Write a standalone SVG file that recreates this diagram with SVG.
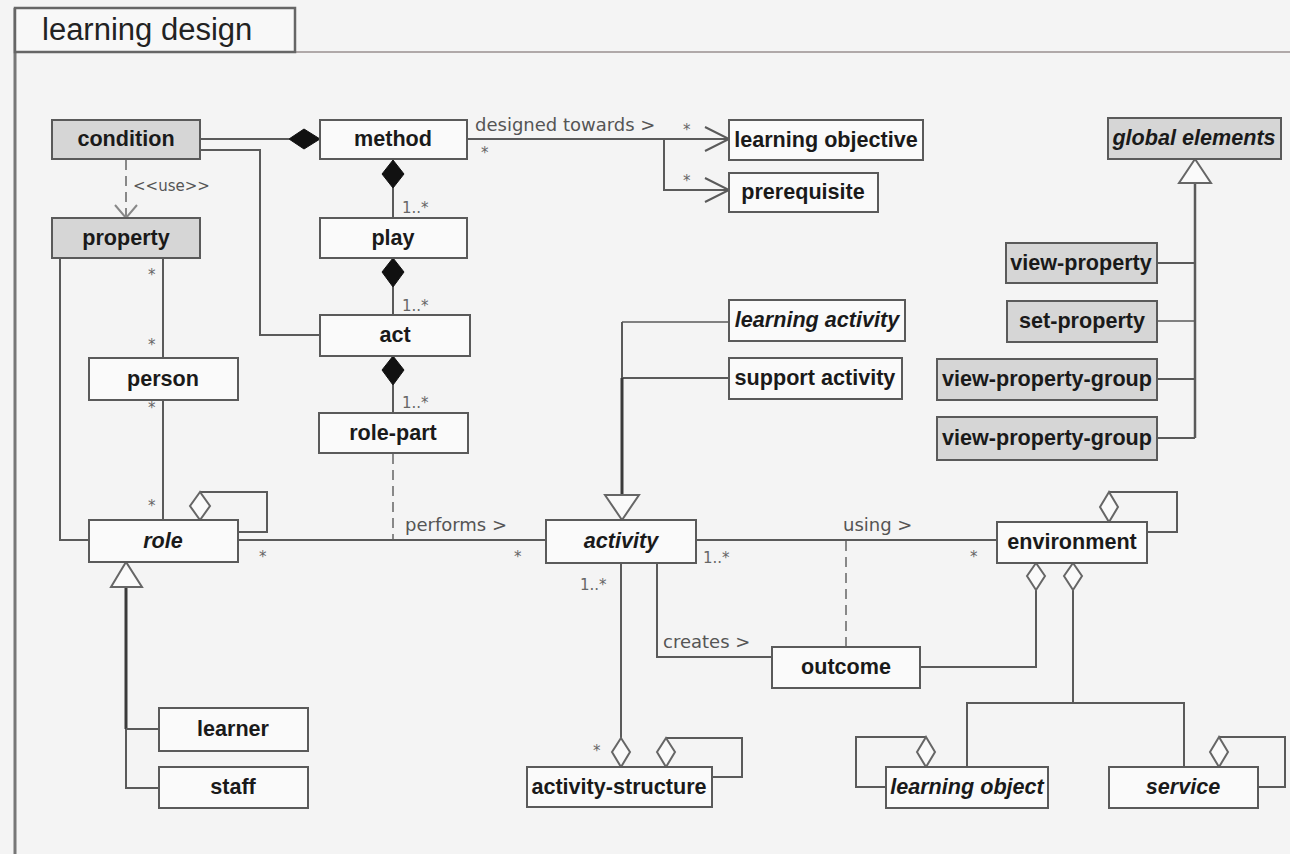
<svg xmlns="http://www.w3.org/2000/svg" width="1290" height="854" viewBox="0 0 1290 854">
<style>
.n rect{fill:#fafafa;stroke:#5a5a5a;stroke-width:2}
.g rect{fill:#d6d6d6;stroke:#5a5a5a;stroke-width:2}
.n text,.g text{font-family:"Liberation Sans",Arial,sans-serif;font-weight:bold;font-size:21.6px;fill:#1a1a1a;text-anchor:middle}
text.i{font-style:italic}
.c path,.c polyline,.c line{fill:none;stroke:#5a5a5a;stroke-width:2}
.c .dash{stroke:#888;stroke-dasharray:10 6}
.c .thick{stroke:#3a3a3a;stroke-width:3}
.c .fd{fill:#111;stroke:#111;stroke-width:1}
.c .hd{fill:#fafafa;stroke:#666;stroke-width:2}
.lbl{font-family:"DejaVu Sans",Verdana,sans-serif;font-size:18px;fill:#555}
.m{font-family:"DejaVu Sans",Verdana,sans-serif;font-size:15px;fill:#666}
</style>
<rect x="0" y="0" width="1290" height="854" fill="#f4f4f4"/>
<g id="frame">
<line x1="15" y1="8" x2="15" y2="854" stroke="#777" stroke-width="3"/>
<line x1="295" y1="52" x2="1290" y2="52" stroke="#9a9090" stroke-width="1.5"/>
<rect x="15" y="8" width="280" height="44" fill="#f8f8f8" stroke="#666" stroke-width="2.5"/>
<text x="42" y="40" font-family="'Liberation Sans',Arial,sans-serif" font-size="31" fill="#222">learning design</text>
</g>
<g id="connectors" class="c">
<line x1="200" y1="139" x2="289" y2="139"/>
<polygon class="fd" points="289,139 304,129 320,139 304,149"/>
<polyline points="200,150 260,150 260,335 320,335"/>
<line class="dash" x1="126" y1="160" x2="126" y2="216"/>
<polyline points="115,205 126,218 137,205" style="stroke:#888"/>
<polygon class="fd" points="393,160 382,174 393,188 404,174"/>
<line x1="393" y1="188" x2="393" y2="218"/>
<polygon class="fd" points="393,258 382,272 393,287 404,272"/>
<line x1="393" y1="287" x2="393" y2="315"/>
<polygon class="fd" points="393,356 382,370 393,385 404,370"/>
<line x1="393" y1="385" x2="393" y2="413"/>
<line class="dash" x1="393" y1="454" x2="393" y2="540"/>
<line x1="467" y1="139" x2="728" y2="139"/>
<polyline points="705,127 729,139 705,151"/>
<polyline points="664,139 664,190 728,190"/>
<polyline points="705,178 729,190 705,202"/>
<polyline points="60,258 60,540 89,540"/>
<line x1="163" y1="258" x2="163" y2="358"/>
<line x1="163" y1="400" x2="163" y2="520"/>
<polyline points="200,492 267,492 267,532 238,532"/>
<polygon class="hd" points="200,492 190,506 200,520 210,506"/>
<line x1="238" y1="540" x2="546" y2="540"/>
<polygon class="hd" points="126,562 111,587 142,587"/>
<line class="thick" x1="126" y1="588" x2="126" y2="729"/>
<polyline points="126,729 126,788 159,788"/>
<line x1="126" y1="729" x2="159" y2="729"/>
<line x1="622" y1="322" x2="729" y2="322" style="stroke-width:1.5"/>
<line x1="622" y1="378" x2="729" y2="378"/>
<line x1="622" y1="322" x2="622" y2="378"/>
<line class="thick" x1="622" y1="378" x2="622" y2="495"/>
<polygon class="hd" points="622,520 605,495 639,495"/>
<line x1="696" y1="540" x2="997" y2="540"/>
<line class="dash" x1="846" y1="541" x2="846" y2="647"/>
<polyline points="657,563 657,657 772,657"/>
<line x1="621" y1="563" x2="621" y2="738"/>
<polygon class="hd" points="621,738 612,752 621,767 630,752"/>
<polyline points="666,738 742,738 742,777 712,777"/>
<polygon class="hd" points="666,738 657,752 666,767 675,752"/>
<polyline points="1109,492 1177,492 1177,532 1147,532"/>
<polygon class="hd" points="1109,492 1100,507 1109,522 1118,507"/>
<polyline points="1036,590 1036,667 920,667"/>
<polygon class="hd" points="1036,563 1027,576 1036,590 1045,576"/>
<line x1="1073" y1="590" x2="1073" y2="703"/>
<polygon class="hd" points="1073,563 1064,576 1073,590 1082,576"/>
<polyline points="967,767 967,703 1184,703 1184,767"/>
<polyline points="926,737 856,737 856,787 886,787"/>
<polygon class="hd" points="926,737 917,752 926,767 935,752"/>
<polyline points="1219,737 1285,737 1285,787 1258,787"/>
<polygon class="hd" points="1219,737 1210,752 1219,767 1228,752"/>
<line x1="1195" y1="183" x2="1195" y2="438" style="stroke-width:2.5"/>
<polygon class="hd" points="1195,159 1179,183 1211,183"/>
<line x1="1157" y1="263" x2="1195" y2="263"/>
<line x1="1157" y1="321" x2="1195" y2="321" style="stroke-width:1.5"/>
<line x1="1157" y1="379" x2="1195" y2="379"/>
<line x1="1157" y1="438" x2="1195" y2="438"/>
</g>
<g id="labels">
<text class="lbl" x="133" y="191" style="font-size:15px">&lt;&lt;use&gt;&gt;</text>
<text class="lbl" x="475" y="131">designed towards &gt;</text>
<text class="lbl" x="405" y="531">performs &gt;</text>
<text class="lbl" x="843" y="531">using &gt;</text>
<text class="lbl" x="663" y="648">creates &gt;</text>
<text class="m" x="683" y="135">*</text>
<text class="m" x="481" y="158">*</text>
<text class="m" x="683" y="186">*</text>
<text class="m" x="402" y="213">1..*</text>
<text class="m" x="402" y="311">1..*</text>
<text class="m" x="402" y="408">1..*</text>
<text class="m" x="148" y="280">*</text>
<text class="m" x="148" y="350">*</text>
<text class="m" x="148" y="413">*</text>
<text class="m" x="148" y="511">*</text>
<text class="m" x="259" y="562">*</text>
<text class="m" x="514" y="562">*</text>
<text class="m" x="703" y="563">1..*</text>
<text class="m" x="970" y="562">*</text>
<text class="m" x="580" y="590">1..*</text>
<text class="m" x="593" y="756">*</text>
</g>
<g id="condition" class="g"><rect x="52" y="120" width="148" height="39"/><text x="126" y="146">condition</text></g>
<g id="method" class="n"><rect x="320" y="120" width="147" height="39"/><text x="393" y="146">method</text></g>
<g id="learning-objective" class="n"><rect x="729" y="120" width="194" height="40"/><text x="826" y="147">learning objective</text></g>
<g id="prerequisite" class="n"><rect x="729" y="173" width="149" height="39"/><text x="803" y="199">prerequisite</text></g>
<g id="global-elements" class="g"><rect x="1108" y="118" width="173" height="41"/><text class="i" x="1194" y="145">global elements</text></g>
<g id="property" class="g"><rect x="52" y="218" width="148" height="40"/><text x="126" y="245">property</text></g>
<g id="play" class="n"><rect x="320" y="218" width="147" height="40"/><text x="393" y="245">play</text></g>
<g id="view-property" class="g"><rect x="1006" y="243" width="151" height="40"/><text x="1081" y="270">view-property</text></g>
<g id="set-property" class="g"><rect x="1007" y="301" width="150" height="41"/><text x="1082" y="328">set-property</text></g>
<g id="learning-activity" class="n"><rect x="729" y="300" width="176" height="41"/><text class="i" x="817" y="327">learning activity</text></g>
<g id="act" class="n"><rect x="320" y="315" width="150" height="41"/><text x="395" y="342">act</text></g>
<g id="person" class="n"><rect x="89" y="358" width="149" height="42"/><text x="163" y="386">person</text></g>
<g id="support-activity" class="n"><rect x="729" y="358" width="173" height="41"/><text x="815" y="385">support activity</text></g>
<g id="view-property-group-1" class="g"><rect x="937" y="359" width="220" height="41"/><text x="1047" y="386">view-property-group</text></g>
<g id="role-part" class="n"><rect x="319" y="413" width="149" height="40"/><text x="393" y="440">role-part</text></g>
<g id="view-property-group-2" class="g"><rect x="937" y="417" width="220" height="43"/><text x="1047" y="445">view-property-group</text></g>
<g id="role" class="n"><rect x="89" y="520" width="149" height="42"/><text class="i" x="163" y="548">role</text></g>
<g id="activity" class="n"><rect x="546" y="520" width="150" height="43"/><text class="i" x="621" y="548">activity</text></g>
<g id="environment" class="n"><rect x="997" y="522" width="150" height="41"/><text x="1072" y="549">environment</text></g>
<g id="outcome" class="n"><rect x="772" y="647" width="148" height="41"/><text x="846" y="674">outcome</text></g>
<g id="learner" class="n"><rect x="159" y="708" width="149" height="43"/><text x="233" y="736">learner</text></g>
<g id="staff" class="n"><rect x="159" y="767" width="149" height="41"/><text x="233" y="794">staff</text></g>
<g id="activity-structure" class="n"><rect x="527" y="767" width="185" height="40"/><text x="619" y="794">activity-structure</text></g>
<g id="learning-object" class="n"><rect x="886" y="767" width="162" height="41"/><text class="i" x="967" y="794">learning object</text></g>
<g id="service" class="n"><rect x="1109" y="767" width="149" height="41"/><text class="i" x="1183" y="794">service</text></g>
</svg>
